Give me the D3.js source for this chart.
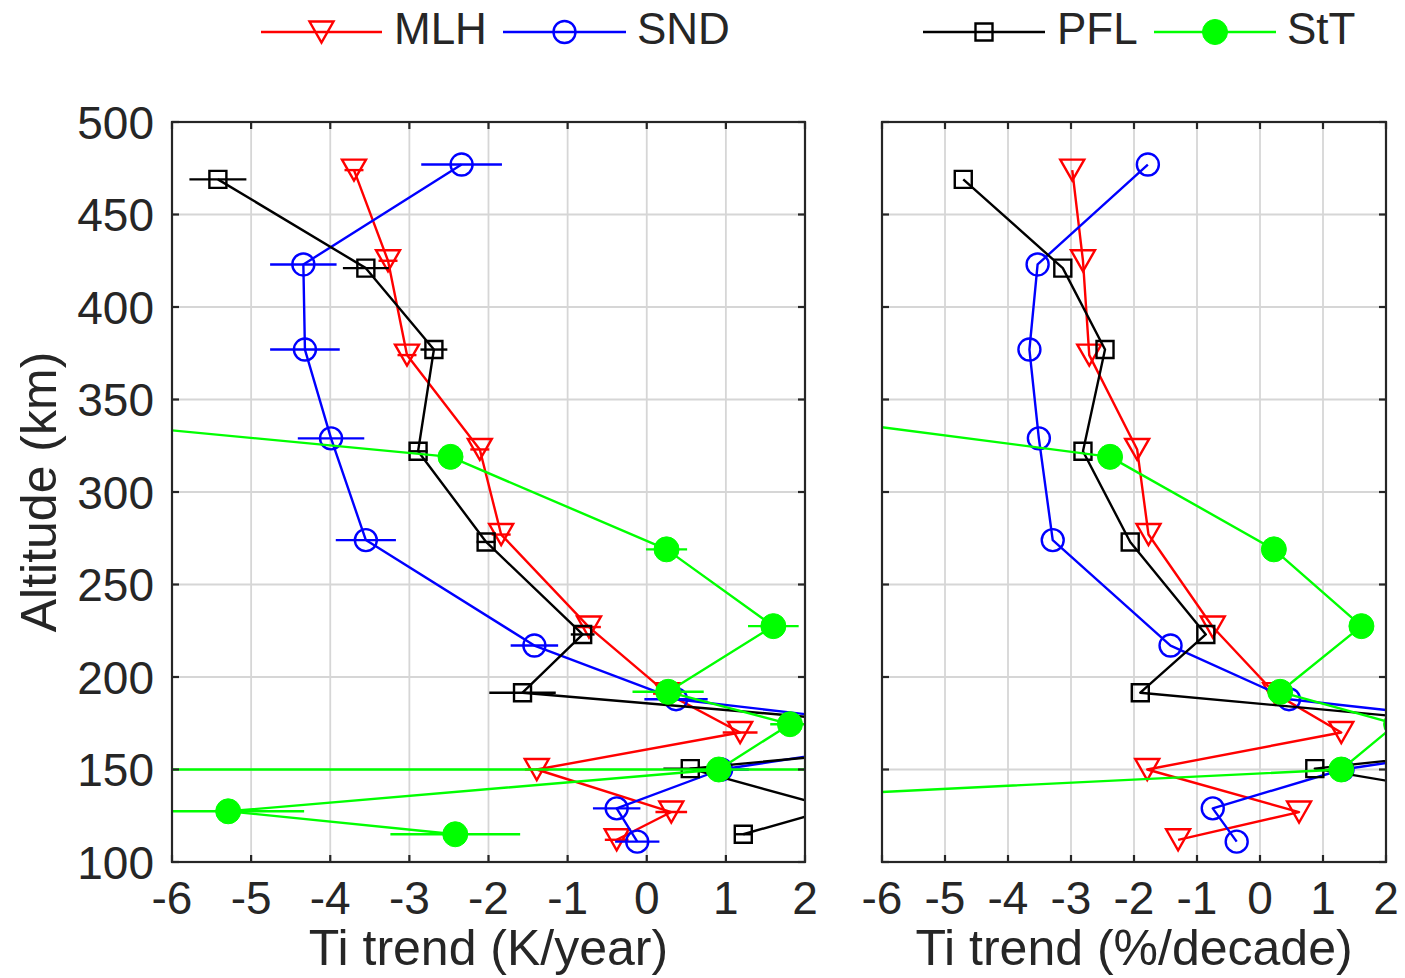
<!DOCTYPE html>
<html>
<head>
<meta charset="utf-8">
<script src="https://cdn.jsdelivr.net/npm/d3@7"></script>
<style>
  html, body { margin: 0; padding: 0; background: #fff; }
  svg { display: block; font-family: "Liberation Sans", Arial, Helvetica, sans-serif; }
</style>
</head>
<body>
<svg id="chart" width="1405" height="978"></svg>
<script>
// Axis ticks
const xTicks = [-6, -5, -4, -3, -2, -1, 0, 1, 2];
const yTicks = [100, 150, 200, 250, 300, 350, 400, 450, 500];

// MLH (red, down triangles)
const mlhAlt   = [474, 425, 374, 323, 277, 227, 191, 170, 150, 127, 112];
const mlhK     = [-3.70, -3.27, -3.03, -2.11, -1.84, -0.73, 0.26, 1.18, -1.39, 0.31, -0.38];
const mlhKErr  = [0.12, 0.12, 0.12, 0.12, 0.12, 0.15, 0.18, 0.22, 0.15, 0.20, 0.15];
const mlhPct   = [-2.98, -2.81, -2.71, -1.95, -1.77, -0.75, 0.24, 1.29, -1.79, 0.62, -1.30];

// SND (blue, open circles)
const sndAlt   = [477, 423, 377, 329, 274, 217, 188, 170, 150, 129, 111];
const sndK     = [-2.34, -4.34, -4.32, -3.99, -3.55, -1.42, 0.37, 4.0, 0.94, -0.38, -0.12];
const sndKErr  = [0.51, 0.42, 0.44, 0.42, 0.38, 0.30, 0.40, 0.40, 0.35, 0.30, 0.28];
const sndPct   = [-1.78, -3.53, -3.66, -3.51, -3.29, -1.42, 0.46, 5.2, 1.31, -0.75, -0.37];

// PFL (black, open squares)
const pflAlt   = [469, 421, 377, 322, 273, 223, 191.5, 168, 150.5, 129, 115];
const pflK     = [-5.42, -3.55, -2.69, -2.89, -2.03, -0.81, -1.57, 4.9, 0.55, 2.37, 1.22];
const pflKErr  = [0.36, 0.29, 0.17, 0.12, 0.12, 0.15, 0.42, 0.40, 0.34, 0.20, 0.10];
const pflPct   = [-4.71, -3.13, -2.46, -2.81, -2.06, -0.86, -1.90, 5.6, 0.87, 4.6, 3.5];

// StT (green, filled circles)
const sttAlt   = [350, 319, 269, 227.5, 192, 174.5, 150, 127.4, 115];
const sttK     = [-10.1, -2.48, 0.25, 1.60, 0.27, 1.81, 0.91, -5.29, -2.42];
const sttKErr  = [0.30, 0.10, 0.26, 0.32, 0.45, 0.25, 8.0, 0.96, 0.82];
const sttPct   = [-9.4, -2.38, 0.22, 1.61, 0.32, 2.16, 1.29, -12.3, -7.0];

const seriesNames = ["MLH", "SND", "PFL", "StT"];
const seriesColors = ["#ff0000", "#0000ff", "#000000", "#00ff00"];
const seriesMarkers = ["triDown", "circle", "square", "dot"];

const xLabels = ["Ti trend (K/year)", "Ti trend (%/decade)"];
const yLabel = "Altitude (km)";

const svg = d3.select("#chart");
const textColor = "#262626";
const lw = 2.4;

const series = [
  { name: seriesNames[0], color: seriesColors[0], marker: seriesMarkers[0], alt: mlhAlt, vals: [mlhK, mlhPct], err: mlhKErr },
  { name: seriesNames[1], color: seriesColors[1], marker: seriesMarkers[1], alt: sndAlt, vals: [sndK, sndPct], err: sndKErr },
  { name: seriesNames[2], color: seriesColors[2], marker: seriesMarkers[2], alt: pflAlt, vals: [pflK, pflPct], err: pflKErr },
  { name: seriesNames[3], color: seriesColors[3], marker: seriesMarkers[3], alt: sttAlt, vals: [sttK, sttPct], err: sttKErr }
];

const plotTop = 122, plotBottom = 862;
const panels = [
  { left: 172, right: 805, idx: 0, showErr: true,  yLabels: true },
  { left: 882, right: 1386, idx: 1, showErr: false, yLabels: false }
];

const y = d3.scaleLinear().domain([100, 500]).range([plotBottom, plotTop]);

function drawMarker(g, type, color, cx, cy) {
  if (type === "circle") {
    g.append("circle").attr("cx", cx).attr("cy", cy).attr("r", 11)
      .attr("fill", "none").attr("stroke", color).attr("stroke-width", lw);
  } else if (type === "dot") {
    g.append("circle").attr("cx", cx).attr("cy", cy).attr("r", 12.5)
      .attr("fill", color).attr("stroke", color).attr("stroke-width", 1);
  } else if (type === "square") {
    g.append("path").attr("d", d3.symbol().type(d3.symbolSquare).size(17 * 17)())
      .attr("transform", `translate(${cx},${cy})`)
      .attr("fill", "none").attr("stroke", color).attr("stroke-width", lw);
  } else if (type === "triDown") {
    const w = 12, h = 10.5;
    g.append("path")
      .attr("d", `M${cx - w},${cy - h}L${cx + w},${cy - h}L${cx},${cy + h}Z`)
      .attr("fill", "none").attr("stroke", color).attr("stroke-width", lw)
      .attr("stroke-linejoin", "miter");
  }
}

panels.forEach((p, pi) => {
  const x = d3.scaleLinear().domain([-6, 2]).range([p.left, p.right]);
  const g = svg.append("g");
  const clipId = "clip" + pi;
  svg.append("clipPath").attr("id", clipId)
    .append("rect").attr("x", p.left).attr("y", plotTop)
    .attr("width", p.right - p.left).attr("height", plotBottom - plotTop);

  // grid
  const grid = g.append("g").attr("stroke", "#d6d6d6").attr("stroke-width", 1.8);
  xTicks.forEach(t => grid.append("line").attr("x1", x(t)).attr("x2", x(t)).attr("y1", plotTop).attr("y2", plotBottom));
  yTicks.forEach(t => grid.append("line").attr("x1", p.left).attr("x2", p.right).attr("y1", y(t)).attr("y2", y(t)));

  // data
  const data = g.append("g").attr("clip-path", `url(#${clipId})`);
  series.forEach(s => {
    const vals = s.vals[p.idx];
    const pts = s.alt.map((a, i) => [vals[i], a]);
    const sg = data.append("g");
    if (p.showErr) {
      pts.forEach((d, i) => {
        sg.append("line")
          .attr("x1", x(d[0] - s.err[i])).attr("x2", x(d[0] + s.err[i]))
          .attr("y1", y(d[1])).attr("y2", y(d[1]))
          .attr("stroke", s.color).attr("stroke-width", lw);
      });
    }
    sg.append("path")
      .attr("d", d3.line().x(d => x(d[0])).y(d => y(d[1]))(pts))
      .attr("fill", "none").attr("stroke", s.color).attr("stroke-width", lw)
      .attr("stroke-linejoin", "round");
    pts.forEach(d => drawMarker(sg, s.marker, s.color, x(d[0]), y(d[1])));
  });

  // box and inward ticks
  const ax = g.append("g").attr("stroke", textColor).attr("stroke-width", 2.2).attr("fill", "none");
  ax.append("rect").attr("x", p.left).attr("y", plotTop).attr("width", p.right - p.left).attr("height", plotBottom - plotTop);
  const tl = 7;
  xTicks.forEach(t => {
    ax.append("line").attr("x1", x(t)).attr("x2", x(t)).attr("y1", plotBottom).attr("y2", plotBottom - tl);
    ax.append("line").attr("x1", x(t)).attr("x2", x(t)).attr("y1", plotTop).attr("y2", plotTop + tl);
  });
  yTicks.forEach(t => {
    ax.append("line").attr("x1", p.left).attr("x2", p.left + tl).attr("y1", y(t)).attr("y2", y(t));
    ax.append("line").attr("x1", p.right).attr("x2", p.right - tl).attr("y1", y(t)).attr("y2", y(t));
  });

  // tick labels
  xTicks.forEach(t => {
    g.append("text").attr("x", x(t)).attr("y", 914).attr("text-anchor", "middle")
      .attr("font-size", 46).attr("fill", textColor).text(t);
  });
  if (p.yLabels) {
    yTicks.forEach(t => {
      g.append("text").attr("x", p.left - 18).attr("y", y(t)).attr("dy", "0.36em")
        .attr("text-anchor", "end").attr("font-size", 46).attr("fill", textColor).text(t);
    });
    g.append("text")
      .attr("transform", `translate(56,${(plotTop + plotBottom) / 2}) rotate(-90)`)
      .attr("text-anchor", "middle").attr("font-size", 50).attr("fill", textColor).text(yLabel);
  }
  g.append("text").attr("x", (p.left + p.right) / 2).attr("y", 965)
    .attr("text-anchor", "middle").attr("font-size", 50).attr("fill", textColor).text(xLabels[p.idx]);
});

// legends
const legendItems = [
  { s: series[0], x0: 261, x1: 382, tx: 394 },
  { s: series[1], x0: 503, x1: 626, tx: 637 },
  { s: series[2], x0: 923, x1: 1045, tx: 1057 },
  { s: series[3], x0: 1154, x1: 1276, tx: 1287 }
];
const lg = svg.append("g");
const ly = 32;
legendItems.forEach(it => {
  lg.append("line").attr("x1", it.x0).attr("x2", it.x1).attr("y1", ly).attr("y2", ly)
    .attr("stroke", it.s.color).attr("stroke-width", lw);
  drawMarker(lg, it.s.marker, it.s.color, (it.x0 + it.x1) / 2, ly);
  lg.append("text").attr("x", it.tx).attr("y", 44).attr("font-size", 44)
    .attr("fill", textColor).text(it.s.name);
});
</script>
</body>
</html>
